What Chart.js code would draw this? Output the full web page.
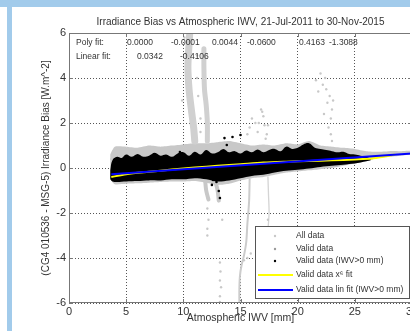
<!DOCTYPE html>
<html>
<head>
<meta charset="utf-8">
<script src="https://cdn.jsdelivr.net/npm/chart.js@4.4.1/dist/chart.umd.min.js"></script>
<style>
  html, body { margin: 0; padding: 0; background: #fff; overflow: hidden; width: 410px; height: 331px; }
  #wrap { position: relative; width: 410px; height: 331px; overflow: hidden; }
  #topBand { position: absolute; left: 0; top: 0; width: 410px; height: 7px; background: #a2cbeb; }
  #leftBand { position: absolute; left: 7px; top: 0; width: 5px; height: 331px; background: #a2cbeb; }
  canvas { position: absolute; left: 0; top: 0; }
</style>
</head>
<body>
<div id="wrap">
  <canvas id="chart" width="418" height="331"></canvas>
  <div id="topBand"></div>
  <div id="leftBand"></div>
</div>
<script>
// ---- data ----
const chartTitle = "Irradiance Bias vs Atmospheric IWV, 21-Jul-2011 to 30-Nov-2015";
const xTicks = [0, 5, 10, 15, 20, 25, 30];
const yTicks = [-6, -4, -2, 0, 2, 4, 6];

// envelope of "All data" (light grey) cloud
const grayBandX     = [3.6, 4, 5, 6, 7, 8, 9, 10, 11, 12, 13, 14, 15, 16, 17, 18, 19, 20, 21, 22, 23, 24, 25, 26, 27, 28, 29, 30];
const grayBandUpper = [0.6, 0.95, 0.95, 0.9, 1.0, 0.95, 1.0, 1.05, 1.1, 1.1, 1.15, 1.2, 1.1, 1.0, 1.05, 1.0, 1.1, 1.05, 1.2, 1.0, 0.95, 0.9, 0.85, 0.75, 0.72, 0.75, 0.75, 0.78];
const grayBandLower = [-0.5, -0.72, -0.7, -0.68, -0.65, -0.62, -0.6, -0.6, -0.58, -0.65, -0.75, -0.7, -0.55, -0.45, -0.4, -0.3, -0.2, -0.15, -0.1, -0.05, 0.0, 0.1, 0.2, 0.3, 0.45, 0.5, 0.55, 0.6];

// envelope of the black "Valid data (IWV>0 mm)" cloud
const blackTopX = [3.6, 3.8, 4.2, 4.6, 5, 5.5, 6, 6.5, 7, 7.5, 8, 8.5, 9, 9.5, 10, 10.5, 11, 11.5, 12, 12.5, 13, 13.5, 14, 14.5, 15, 15.5, 16, 16.5, 17, 17.5, 18, 18.5, 19, 19.5, 20, 20.5, 21, 21.5, 22, 22.5, 23, 23.5, 24, 24.5, 25, 25.5, 26, 26.4];
const blackTop  = [-0.1, 0.35, 0.5, 0.45, 0.6, 0.5, 0.62, 0.5, 0.55, 0.68, 0.55, 0.6, 0.5, 0.65, 0.7, 0.55, 0.72, 0.6, 0.8, 0.65, 0.7, 0.85, 0.7, 0.75, 0.65, 0.78, 0.7, 0.82, 0.7, 0.8, 0.85, 0.75, 0.95, 0.85, 0.9, 1.05, 1.1, 0.9, 0.85, 0.8, 0.75, 0.7, 0.72, 0.62, 0.6, 0.55, 0.5, 0.4];
const blackBotX = [3.6, 3.8, 4.2, 5, 6, 7, 8, 9, 10, 11, 12, 13, 14, 15, 16, 17, 18, 19, 20, 21, 22, 23, 24, 25, 26, 26.4];
const blackBot  = [-0.5, -0.6, -0.62, -0.6, -0.58, -0.55, -0.55, -0.5, -0.5, -0.45, -0.5, -0.6, -0.55, -0.45, -0.35, -0.3, -0.2, -0.12, -0.08, -0.02, 0.05, 0.1, 0.15, 0.2, 0.3, 0.35];

// dense grey streaks (x, y)
const streakColA = [{x:10.6,y:6.3},{x:10.5,y:5.5},{x:10.4,y:4.5},{x:10.5,y:3.5},{x:10.7,y:2.6},{x:10.9,y:1.8},{x:11.0,y:1.2}];
const streakColB = [{x:11.8,y:5.3},{x:11.8,y:4.5},{x:11.85,y:3.5},{x:12.0,y:2.8},{x:12.1,y:2.0},{x:12.1,y:1.2}];
const streakDn1  = [{x:11.9,y:-0.5},{x:12.0,y:-1.0},{x:12.2,y:-1.4}];
const streakDn2  = [{x:12.8,y:-0.6},{x:13.0,y:-1.0},{x:13.1,y:-1.45}];
const streakDn3  = [{x:15.8,y:-0.5},{x:15.75,y:-1.5},{x:15.6,y:-2.5},{x:15.5,y:-3.3},{x:15.3,y:-3.9},{x:15.1,y:-4.3},{x:14.95,y:-4.8},{x:14.9,y:-5.4},{x:14.9,y:-5.95}];
const streakDn4  = [{x:17.4,y:-0.4},{x:17.45,y:-1.2},{x:17.5,y:-2.0},{x:17.4,y:-2.75}];

// scattered grey points
const grayDots = [
  {x:16.8,y:2.6},{x:17.0,y:2.3},{x:16.3,y:2.0},{x:15.8,y:1.8},{x:16.5,y:1.6},{x:17.3,y:1.5},{x:16.0,y:2.2},{x:16.6,y:2.0},{x:15.6,y:1.5},{x:17.1,y:1.9},{x:16.9,y:2.5},
  {x:22.0,y:4.2},{x:21.6,y:3.9},{x:22.2,y:3.7},{x:22.5,y:3.5},{x:22.8,y:3.2},{x:22.6,y:2.9},{x:23.0,y:2.6},{x:22.3,y:2.4},{x:22.9,y:2.2},{x:21.8,y:3.4},{x:22.4,y:4.0},{x:23.1,y:3.0},{x:22.7,y:1.8},{x:22.9,y:1.5},{x:23.0,y:1.2},
  {x:12.1,y:-1.8},{x:12.2,y:-2.3},{x:12.1,y:-2.7},{x:12.1,y:-3.0},{x:13.4,y:-2.3},{x:13.2,y:-4.2},{x:13.25,y:-4.6},{x:13.2,y:-5.0},{x:13.3,y:-5.3},{x:13.2,y:-5.7},{x:13.2,y:-5.95},{x:17.4,y:-2.3},
  {x:11.2,y:4.0},{x:11.3,y:3.2},{x:11.5,y:2.2},{x:10.1,y:5.8},{x:11.2,y:5.0},{x:9.9,y:3.0},{x:11.5,y:1.6},{x:17.2,y:1.3},{x:17.4,y:1.9},
  {x:3.7,y:0.4},{x:15.3,y:-4.1},{x:15.9,y:-3.8},{x:15.6,y:-4.0}
];

// black outliers
const blackDots = [
  {x:12.5,y:-0.75},{x:12.9,y:-0.62},{x:13.1,y:-1.02},{x:13.2,y:-1.33},{x:12.6,y:-0.53},
  {x:13.6,y:1.33},{x:14.3,y:1.38},{x:15.0,y:1.47},{x:13.8,y:1.02},{x:9.7,y:0.71}
];

// fits
const polyFitLine = [{x:3.7,y:-0.4},{x:5,y:-0.28},{x:7,y:-0.17},{x:9,y:-0.07},{x:11,y:0.02},{x:13,y:0.1},{x:15,y:0.17},{x:17,y:0.24},{x:19,y:0.28},{x:21,y:0.31},{x:23,y:0.34},{x:25,y:0.38},{x:26.5,y:0.42},{x:27.5,y:0.5},{x:28.5,y:0.6}];
const linFitLine  = [{x:3.7,y:-0.28},{x:30,y:0.64}];

const polyCoefs = ["0.0000", "-0.0001", "0.0044", "-0.0600", "0.4163", "-1.3088"];
const linCoefs  = ["0.0342", "-0.4106"];

const legendItems = [
  { label: "All data", kind: "dot", color: "#c8c8c8" },
  { label: "Valid data", kind: "dot", color: "#9a9a9a" },
  { label: "Valid data (IWV>0 mm)", kind: "dot", color: "#000" },
  { label: "Valid data x\u2076 fit", kind: "line", color: "#ffff00" },
  { label: "Valid data lin fit (IWV>0 mm)", kind: "line", color: "#0000ff" }
];

const GREY = "#c8c8c8";
const TXT = "#333";
const FONT = "'Liberation Sans', Arial, sans-serif";

function zip(xs, ys) { return xs.map((x, i) => ({ x: x, y: ys[i] })); }
function streak(data, w, color) {
  return { type: "line", data: data, borderColor: color || GREY, borderWidth: w, pointRadius: 0, fill: false, tension: 0.3, borderCapStyle: "round", order: 18 };
}

// ---- plugin: title, box, inside ticks, fit text, legend ----
const decor = {
  id: "decor",
  afterDraw(chart) {
    const ctx = chart.ctx;
    const a = chart.chartArea;
    const xs = chart.scales.x, ys = chart.scales.y;
    ctx.save();

    // title centred over the plot box
    ctx.fillStyle = TXT;
    ctx.font = "10px " + FONT;
    ctx.textAlign = "center";
    ctx.textBaseline = "middle";
    ctx.fillText(chartTitle, (a.left + a.right) / 2, 22);

    ctx.strokeStyle = "#777";
    ctx.lineWidth = 1;
    ctx.strokeRect(a.left + 0.5, a.top + 0.5, a.right - a.left - 1, a.bottom - a.top - 1);
    ctx.beginPath();
    xTicks.forEach(v => {
      const px = Math.round(xs.getPixelForValue(v)) + 0.5;
      ctx.moveTo(px, a.bottom); ctx.lineTo(px, a.bottom - 4);
      ctx.moveTo(px, a.top); ctx.lineTo(px, a.top + 4);
    });
    yTicks.forEach(v => {
      const py = Math.round(ys.getPixelForValue(v)) + 0.5;
      ctx.moveTo(a.left, py); ctx.lineTo(a.left + 4, py);
      ctx.moveTo(a.right, py); ctx.lineTo(a.right - 4, py);
    });
    ctx.stroke();

    // fit coefficients text
    ctx.fillStyle = TXT;
    ctx.font = "8.5px " + FONT;
    ctx.textAlign = "left";
    ctx.fillText("Poly fit:", a.left + 7, a.top + 10);
    const polyX = [127, 171, 212, 247, 299, 329];
    polyCoefs.forEach((c, i) => ctx.fillText(c, polyX[i], a.top + 10));
    ctx.fillText("Linear fit:", a.left + 7, a.top + 24);
    const linX = [137, 180];
    linCoefs.forEach((c, i) => ctx.fillText(c, linX[i], a.top + 24));

    // legend box
    const lx = 255, ly = 226, lw = 154, lh = 72;
    ctx.fillStyle = "#fff";
    ctx.fillRect(lx, ly, lw, lh);
    ctx.strokeStyle = "#555";
    ctx.strokeRect(lx + 0.5, ly + 0.5, lw, lh);
    const rowY = [236, 249, 261, 275, 290];
    legendItems.forEach((it, i) => {
      const y = rowY[i];
      if (it.kind === "dot") {
        ctx.fillStyle = it.color;
        ctx.beginPath(); ctx.arc(275, y, 1.2, 0, Math.PI * 2); ctx.fill();
      } else {
        ctx.strokeStyle = it.color; ctx.lineWidth = 2;
        ctx.beginPath(); ctx.moveTo(258, y); ctx.lineTo(293, y); ctx.stroke();
      }
      ctx.fillStyle = TXT;
      ctx.fillText(it.label, 296, y);
    });
    ctx.restore();
  }
};

const ctx = document.getElementById("chart").getContext("2d");
new Chart(ctx, {
  type: "line",
  data: {
    datasets: [
      { data: zip(grayBandX, grayBandLower), borderWidth: 0, pointRadius: 0, fill: false, order: 20, tension: 0.2 },
      { data: zip(grayBandX, grayBandUpper), borderWidth: 0, pointRadius: 0, fill: 0, backgroundColor: GREY, order: 19, tension: 0.2 },
      streak(streakColA, 7, "#d0d0d0"),
      streak(streakColB, 5, "#d0d0d0"),
      streak(streakDn1, 4),
      streak(streakDn2, 4),
      streak(streakDn3, 2, "#cccccc"),
      streak(streakDn4, 1.3, "#d4d4d4"),
      { type: "scatter", data: grayDots, pointRadius: 1.2, pointBackgroundColor: GREY, pointBorderWidth: 0, showLine: false, order: 17 },
      { data: zip(blackBotX, blackBot), borderWidth: 0, pointRadius: 0, fill: false, order: 10, tension: 0.3 },
      { data: zip(blackTopX, blackTop), borderWidth: 0, pointRadius: 0, fill: 9, backgroundColor: "#000", order: 9, tension: 0.4 },
      { type: "scatter", data: blackDots, pointRadius: 1.3, pointBackgroundColor: "#000", pointBorderWidth: 0, showLine: false, order: 8 },
      { data: polyFitLine, borderColor: "#ffff00", borderWidth: 2, pointRadius: 0, fill: false, tension: 0.3, order: 2 },
      { data: linFitLine, borderColor: "#0000ff", borderWidth: 2, pointRadius: 0, fill: false, order: 1 }
    ]
  },
  options: {
    responsive: false,
    animation: false,
    events: [],
    layout: { padding: { left: 40, right: 6, top: 33, bottom: 7 } },
    plugins: {
      legend: { display: false },
      tooltip: { enabled: false },
      title: { display: false }
    },
    scales: {
      x: {
        type: "linear", min: 0, max: 30,
        afterBuildTicks: s => { s.ticks = xTicks.map(v => ({ value: v })); },
        afterFit: s => { s.height = 21; s.paddingRight = 0; s.paddingLeft = 0; },
        ticks: { color: TXT, font: { family: FONT, size: 11 }, padding: 2, maxRotation: 0 },
        grid: { color: "#555", drawTicks: false },
        border: { display: false, dash: [1, 2] },
        title: { display: true, text: "Atmospheric IWV [mm]", color: TXT, font: { family: FONT, size: 10.5 }, padding: 0 }
      },
      y: {
        type: "linear", min: -6, max: 6,
        afterBuildTicks: s => { s.ticks = yTicks.map(v => ({ value: v })); },
        afterFit: s => { s.width = 29; s.paddingTop = 0; s.paddingBottom = 0; },
        ticks: { color: TXT, font: { family: FONT, size: 11 }, padding: 3 },
        grid: { color: "#555", drawTicks: false },
        border: { display: false, dash: [1, 2] },
        title: { display: true, text: "(CG4 010536 - MSG-5) Irradiance Bias [W.m^-2]", color: TXT, font: { family: FONT, size: 10 }, padding: 0 }
      }
    }
  },
  plugins: [decor]
});
</script>
</body>
</html>
